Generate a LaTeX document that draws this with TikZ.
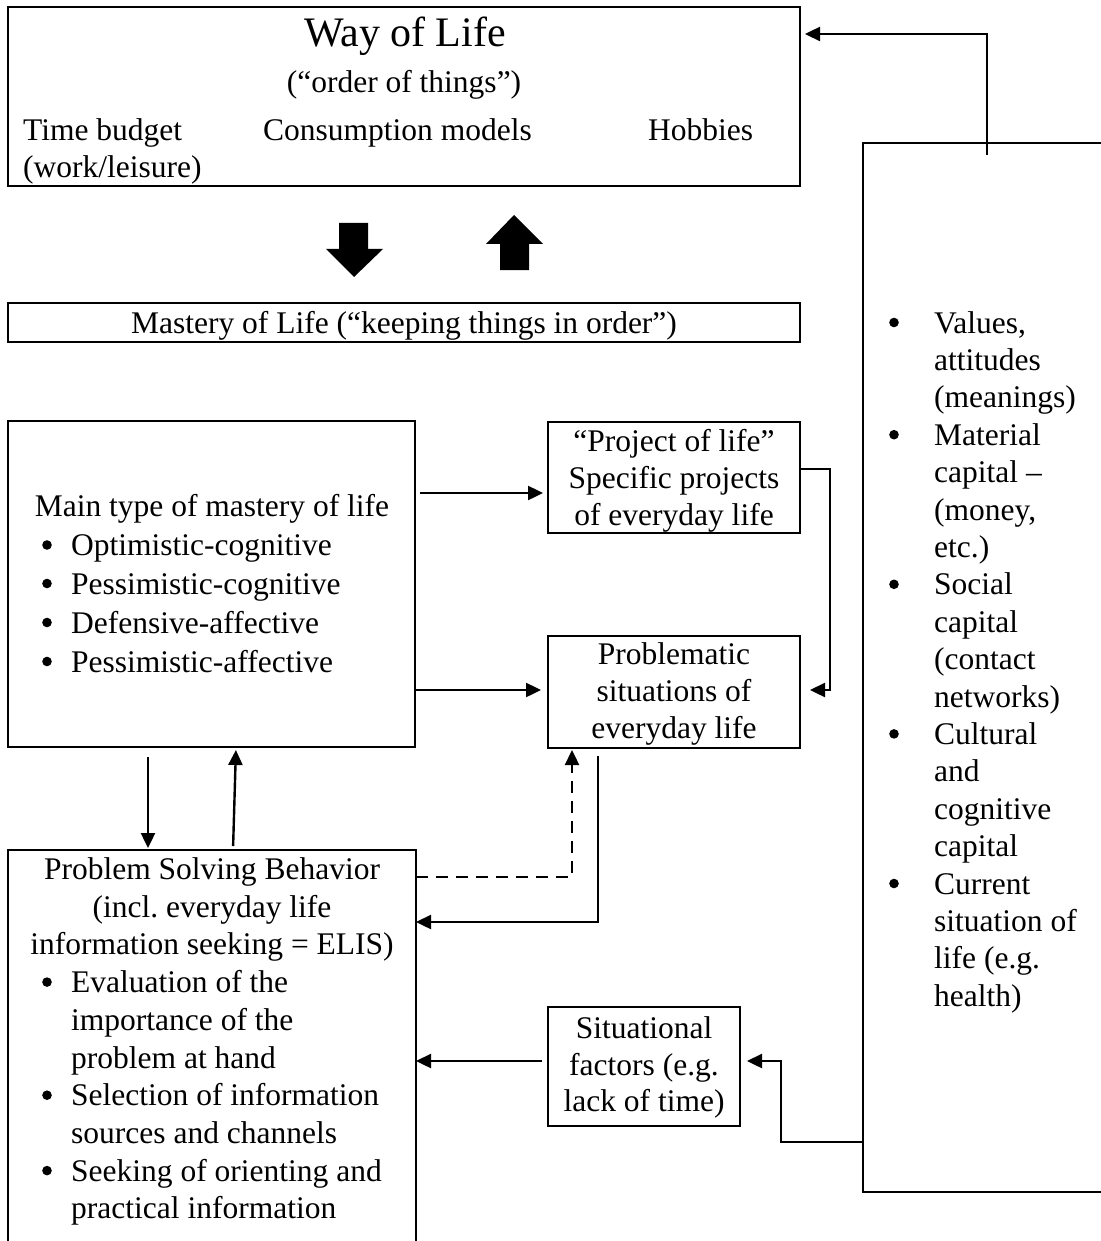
\documentclass[tikz,border=0pt]{standalone}
\usepackage{fontspec}
\setmainfont{Liberation Serif}
\usetikzlibrary{arrows.meta}
\newcommand\bodysize{\fontsize{31.5}{37.5}\selectfont}
\newcommand\titlesize{\fontsize{42}{46}\selectfont}
\frenchspacing

\begin{document}
\begin{tikzpicture}[x=1pt,y=-1pt,
  box/.style={draw, line width=2.4pt, rectangle, inner sep=0pt, outer sep=0pt},
  txt/.style={inner sep=0pt, font=\bodysize},
  ln/.style={txt, anchor=base},
  lnw/.style={txt, anchor=base west},
  listdot/.style={fill=black},
  link/.style={line width=2.4pt, -{Triangle[length=15pt,width=14pt]}},
  blockarrow/.style={fill=black}]
\useasboundingbox (0,0) rectangle (1100,1241);

% ---- boxes ----
\node[box, minimum width=792pt, minimum height=179pt] (wol) at (404,96.5) {};
\node[box, minimum width=792pt, minimum height=39pt] (mast) at (404,322.5) {};
\node[box, minimum width=407pt, minimum height=326pt] (main) at (211.5,584) {};
\node[box, minimum width=252pt, minimum height=111pt] (proj) at (674,477.5) {};
\node[box, minimum width=252pt, minimum height=112pt] (prob) at (674,692) {};
\node[box, minimum width=408pt, minimum height=410pt] (psb) at (212,1055) {};
\node[box, minimum width=192pt, minimum height=119pt] (sit) at (644,1066.5) {};
\node[box, minimum width=247pt, minimum height=1049pt] (res) at (986.5,667.5) {};

% ---- way of life ----
\node[txt, font=\titlesize, anchor=base] (wolT) at (405,47) {Way of Life};
\node[ln] (wolS) at (404,93) {(“order of things”)};
\node[lnw] (wolA) at (23,141) {Time budget};
\node[lnw] (wolB) at (23,178) {(work/leisure)};
\node[lnw] (wolC) at (263,141) {Consumption models};
\node[lnw] (wolD) at (648,141) {Hobbies};

% ---- block arrows between way and mastery of life ----
\fill[blockarrow] (339,223) -- (368,223) -- (368,249) -- (383,249) -- (354,277)
  -- (326,249) -- (339,249) -- cycle;
\fill[blockarrow] (514,215) -- (543,244) -- (529,244) -- (529,270) -- (500,270)
  -- (500,244) -- (486,244) -- cycle;

% ---- mastery of life ----
\node[ln] (mastT) at (404,333) {Mastery of Life (“keeping things in order”)};

% ---- main type ----
\node[ln] (mainT) at (212,516) {Main type of mastery of life};
\foreach \yy/\tt [count=\i] in {555.5/Optimistic-cognitive, 594/Pessimistic-cognitive,
    633/Defensive-affective, 672/Pessimistic-affective} {
  \fill[listdot] (47,\yy-10.5) circle (4.8pt);
  \node[lnw] (mainL\i) at (71,\yy) {\tt};
}

% ---- project / problematic ----
\node[ln] (projA) at (674,451) {“Project of life”};
\node[ln] (projB) at (674,488.5) {Specific projects};
\node[ln] (projC) at (674,525) {of everyday life};
\node[ln] (probA) at (674,664) {Problematic};
\node[ln] (probB) at (674,701) {situations of};
\node[ln] (probC) at (674,738) {everyday life};

% ---- problem solving behavior ----
\node[ln] (psbA) at (212,879.5) {Problem Solving Behavior};
\node[ln] (psbB) at (212,917.2) {(incl. everyday life};
\node[ln] (psbC) at (212,954.9) {information seeking = ELIS)};
\foreach \yy in {992.6, 1105.7, 1181.1} {
  \fill[listdot] (47,\yy-10.5) circle (4.8pt);
}
\foreach \yy/\tt [count=\i] in {992.6/Evaluation of the, 1030.3/importance of the,
    1068/problem at hand, 1105.7/Selection of information,
    1143.4/sources and channels, 1181.1/Seeking of orienting and,
    1218.8/practical information} {
  \node[lnw] (psbL\i) at (71,\yy) {\tt};
}

% ---- situational factors ----
\node[ln] (sitA) at (644,1038.5) {Situational};
\node[ln] (sitB) at (644,1075) {factors (e.g.};
\node[ln] (sitC) at (644,1111.5) {lack of time)};

% ---- resources ----
\foreach \k in {0,3,7,11,15} {
  \fill[listdot] (894,333+\k*37.4-10.5) circle (4.8pt);
}
\foreach \tt [count=\i from 0] in {{Values,}, {attitudes}, {(meanings)}, {Material},
    {capital –}, {(money,}, {etc.)}, {Social}, {capital}, {(contact}, {networks)},
    {Cultural}, {and}, {cognitive}, {capital}, {Current}, {situation of},
    {life (e.g.}, {health)}} {
  \node[lnw] (resL\i) at (934,333+\i*37.4) {\tt};
}

% ---- connectors ----
\coordinate (resTop) at (987,155);
\draw[link, shorten >=5pt] (resTop) -- (resTop |- 0,34) -- (wol.east |- 0,34);

\draw[link, shorten <=5pt, shorten >=5pt] (main.east |- 0,493) -- (proj.west |- 0,493);
\draw[link, shorten >=7pt] (main.east |- 0,690) -- (prob.west |- 0,690);
\draw[link, shorten >=10pt] (proj.east |- 0,469) -| (830,690) -- (prob.east |- 0,690);

\draw[link, shorten <=10pt, shorten >=2pt] (main.south -| 148,0) -- (psb.north -| 148,0);
\draw[link, shorten <=4pt, shorten >=3pt] (psb.north -| 233,0) -- (main.south -| 236,0);

\draw[link, dash pattern=on 12pt off 8pt, shorten >=2pt] (psb.east |- 0,877) -| (prob.south -| 572,0);
\draw[link, shorten <=8pt] (prob.south -| 598,0) |- (psb.east |- 0,922);

\draw[link, shorten <=6pt] (sit.west |- 0,1061) -- (psb.east |- 0,1061);
\draw[link, shorten >=7pt] (res.west |- 0,1142) -| (781,1061) -- (sit.east |- 0,1061);
\end{tikzpicture}
\end{document}
